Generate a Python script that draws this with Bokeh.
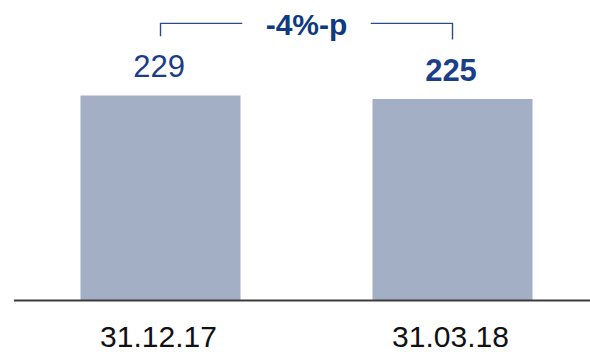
from bokeh.plotting import figure
from bokeh.models import ColumnDataSource, Range1d
from bokeh.core.properties import value
from bokeh.embed import file_html
from bokeh.resources import INLINE

# Data
dates = ["31.12.17", "31.03.18"]
amounts = [229, 225]
amount_styles = ["normal", "bold"]
change_label = "-4%-p"

FONT = "Liberation Sans"
BAR_COLOR = "#A3AFC4"
TEXT_BLUE = "#1B3D8A"
LINE_BLUE = "#2A4C86"

idx = list(range(len(dates)))
src = ColumnDataSource(dict(
    x=idx,
    date=dates,
    amount=amounts,
    amount_text=[str(v) for v in amounts],
    style=amount_styles,
))

p = figure(
    width=590, height=352,
    x_range=Range1d(-0.548, 1.4726),
    y_range=Range1d(-58.1, 335.0),
    toolbar_location=None,
    output_backend="svg",
    min_border=0,
)
p.axis.visible = False
p.grid.visible = False
p.outline_line_color = None
p.background_fill_color = "white"
p.border_fill_color = "white"

# Bars
p.vbar(x="x", top="amount", bottom=0, width=0.548, source=src,
       fill_color=BAR_COLOR, line_color=None)

# Baseline
p.segment(x0=[-0.502], y0=[0], x1=[1.4726], y1=[0],
          line_color="#3C3C3C", line_width=2)

# Value labels above bars
p.text(x="x", y="amount", text="amount_text", source=src,
       text_font=value(FONT), text_font_size="31px",
       text_font_style="style", text_color=TEXT_BLUE,
       text_align="center", text_baseline="alphabetic",
       x_offset=-1.5, y_offset=-29)

# Category labels below baseline
p.text(x="x", y=0, text="date", source=src,
       text_font=value(FONT), text_font_size="30px",
       text_color="#111111", text_align="center",
       text_baseline="alphabetic", x_offset=-2, y_offset=36.5)

# Change bracket between the two bars
by = 309.5
left, right = idx[0], idx[-1]
mid = (left + right) / 2
gap = 0.22
p.multi_line(
    xs=[[left, left, mid - gap], [mid + gap, right, right]],
    ys=[[295.1, by, by], [by, by, 291.5]],
    line_color=LINE_BLUE, line_width=1.4,
)
p.text(x=[mid], y=[by], text=[change_label],
       text_font=value(FONT), text_font_size="30px",
       text_font_style="bold", text_color="#0E3A82",
       text_align="center", text_baseline="alphabetic", y_offset=1.5)

with open("out.html", "w") as f:
    f.write(file_html(p, INLINE))
